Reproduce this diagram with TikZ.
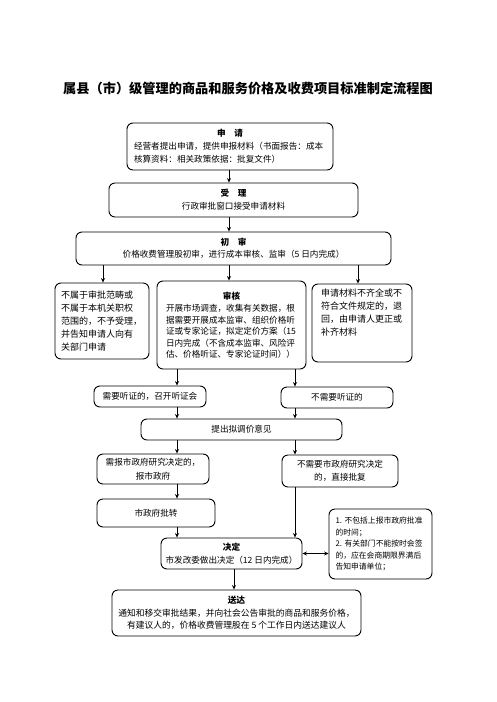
\documentclass[tikz,border=0pt]{standalone}
\usepackage{fontspec}
\setmainfont{Noto Sans CJK SC}
\usetikzlibrary{arrows.meta}
\setlength{\parindent}{0pt}
\newcommand{\boxtitle}[1]{\hbox to \hsize{\hfil\bfseries #1\hfil}}
\begin{document}
\begin{tikzpicture}[x=1pt,y=-1pt,
  box/.style={draw=black, line width=0.9pt, rounded corners=6pt, inner sep=0pt, align=center, font=\fontsize{8.6}{13}\selectfont},
  arr/.style={line width=0.8pt, -{Stealth[length=4.5pt,width=4pt]}},
  arrb/.style={line width=0.8pt, {Stealth[length=4.5pt,width=4pt]}-{Stealth[length=4.5pt,width=4pt]}},
]
\useasboundingbox (0,0) rectangle (496,702);
\coordinate (xa) at (229,0);
\coordinate (xl) at (103,0);
\coordinate (xr) at (358,0);
\coordinate (xb) at (177,0);
\coordinate (xc) at (295,0);
\coordinate (xd) at (234,0);

\node[font=\fontsize{13.2}{16}\selectfont\bfseries] (title) at (248,88) {属县（市）级管理的商品和服务价格及收费项目标准制定流程图};

\node[box, minimum width=206pt, minimum height=47pt, text width=192pt, align=left] (sq) at (230,146.5)
  {\boxtitle{申　请}\\经营者提出申请，提供申报材料（书面报告：成本\\核算资料：相关政策依据：批复文件）};

\node[box, minimum width=249pt, minimum height=34pt] (sl) at (233.5,200)
  {{\bfseries 受　理}\\行政审批窗口接受申请材料};

\node[box, minimum width=315pt, minimum height=33pt, font=\fontsize{8.6}{12}\selectfont] (cs) at (233.5,248.5)
  {{\bfseries 初　审}\\价格收费管理股初审，进行成本审核、监审（5 日内完成）};

\node[box, minimum width=94pt, minimum height=76pt, text width=82pt, align=left, font=\fontsize{9}{13}\selectfont] (lb) at (102,321)
  {不属于审批范畴或\\不属于本机关职权\\范围的，不予受理，\\并告知申请人向有\\关部门申请};

\node[box, minimum width=149pt, minimum height=88pt, text width=131pt, align=left, font=\fontsize{8.6}{11.4}\selectfont] (sh) at (231.5,325)
  {\boxtitle{审核}\\[1.5pt]开展市场调查，收集有关数据，根\\据需要开展成本监审、组织价格听\\证或专家论证，拟定定价方案（15\\日内完成（不含成本监审、风险评\\估、价格听证、专家论证时间））};

\node[box, minimum width=100pt, minimum height=78pt] (rb) at (362,323) {};
\node[anchor=north, inner sep=0pt, text width=82pt, align=left, font=\fontsize{9}{13}\selectfont, yshift=-5pt] (rbt) at (rb.north)
  {申请材料不齐全或不\\符合文件规定的，退\\回，由申请人更正或\\补齐材料};

\node[box, minimum width=112pt, minimum height=21pt] (tz) at (150,396.5) {需要听证的，召开听证会};
\node[box, minimum width=112pt, minimum height=21pt] (btz) at (337,397.5) {不需要听证的};
\node[box, minimum width=201pt, minimum height=21pt] (tc) at (241.5,429.5) {提出拟调价意见};

\node[box, minimum width=112pt, minimum height=30pt, font=\fontsize{8.6}{13.5}\selectfont] (bs) at (153,469) {需报市政府研究决定的，\\报市政府};
\node[box, minimum width=116pt, minimum height=32pt, font=\fontsize{8.6}{13.5}\selectfont] (bbs) at (340,471) {不需要市政府研究决定\\的，直接批复};
\node[box, minimum width=118pt, minimum height=28pt] (pz) at (156,513) {市政府批转};

\node[box, minimum width=141pt, minimum height=31pt, font=\fontsize{8.6}{12.5}\selectfont] (jd) at (231.5,553.5)
  {{\bfseries 决定}\\市发改委做出决定（12 日内完成）};

\node[box, minimum width=103pt, minimum height=70pt, text width=90pt, align=left, font=\fontsize{7.8}{11.5}\selectfont] (note) at (380.5,544)
  {1.~不包括上报市政府批准\\的时间；\\2.~有关部门不能按时会签\\的，应在会商期限界满后\\告知申请单位；};

\node[box, minimum width=249pt, minimum height=46pt, font=\fontsize{8.75}{12.5}\selectfont] (sd) at (236.5,613)
  {{\bfseries 送达}\\通知和移交审批结果，并向社会公告审批的商品和服务价格，\\有建议人的，价格收费管理股在 5 个工作日内送达建议人};

\draw[arr] (sq.south -| xa) -- (sl.north -| xa);
\draw[arr] (sl.south -| xa) -- (cs.north -| xa);
\draw[arr] (cs.south -| xl) -- (lb.north -| xl);
\draw[arr] (cs.south -| xa) -- (sh.north -| xa);
\draw[arr] (cs.south -| xr) -- (rb.north -| xr);
\draw[arr] (sh.south -| xb) -- (tz.north -| xb);
\draw[arr] (sh.south -| xc) -- (btz.north -| xc);
\draw[arr] (tz.south -| xb) -- (tc.north -| xb);
\draw[arr] (btz.south -| xc) -- (tc.north -| xc);
\draw[arr] (tc.south -| xb) -- (bs.north -| xb);
\draw[arr] (tc.south -| xc) -- (bbs.north -| xc);
\draw[arr] (bs.south -| xb) -- (pz.north -| xb);
\draw[arr] (pz.south -| xb) -- (jd.north -| xb);
\draw[arr] (bbs.south -| xc) -- (jd.north -| xc);
\draw[arrb] (jd.east) -- (jd.east -| note.west);
\draw[arr] (jd.south -| xd) -- (sd.north -| xd);
\end{tikzpicture}
\end{document}
